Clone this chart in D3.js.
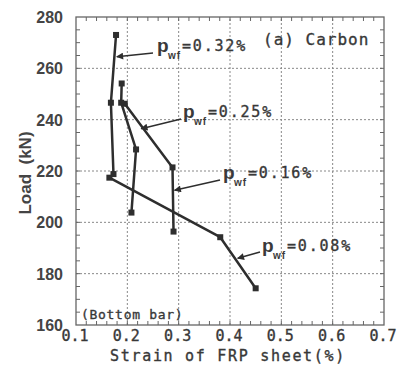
<!DOCTYPE html>
<html><head><meta charset="utf-8">
<script src="https://cdn.jsdelivr.net/npm/d3@7"></script>
<style>body{margin:0;background:#fff}svg{display:block}</style>
</head><body>
<script>
// ---- data ----
const strain032 = [0.178, 0.168, 0.173];
const load032   = [273, 246.6, 218.8];
const strain025 = [0.195, 0.288, 0.290];
const load025   = [246.2, 221.4, 196.4];
const strain016 = [0.189, 0.188, 0.217, 0.208];
const load016   = [254.1, 246.6, 228.4, 203.8];
const strain008 = [0.165, 0.381, 0.450];
const load008   = [217.4, 194.2, 174.3];
const xTicks = [0.1, 0.2, 0.3, 0.4, 0.5, 0.6, 0.7];
const yTicks = [160, 180, 200, 220, 240, 260, 280];
const labels = ["0.32%", "0.25%", "0.16%", "0.08%"];

const W = 400, H = 376;
const m = {l: 76, r: 16, t: 17, b: 51};
const svg = d3.select("body").append("svg").attr("width", W).attr("height", H);
const x = d3.scaleLinear().domain([0.1, 0.7]).range([m.l, W - m.r]);
const y = d3.scaleLinear().domain([160, 280]).range([H - m.b, m.t]);
const ink = "#2e2e2e";
const txt = "#383838";

// grid
const g = svg.append("g");
g.selectAll(".gx").data(xTicks.slice(1, -1)).join("line")
  .attr("x1", d => x(d)).attr("x2", d => x(d)).attr("y1", y(160)).attr("y2", y(280))
  .attr("stroke", "#888").attr("stroke-width", 1).attr("stroke-dasharray", "2,2");
g.selectAll(".gy").data(yTicks.slice(1, -1)).join("line")
  .attr("y1", d => y(d)).attr("y2", d => y(d)).attr("x1", x(0.1)).attr("x2", x(0.7))
  .attr("stroke", "#888").attr("stroke-width", 1).attr("stroke-dasharray", "2,2");

// inward ticks on all sides
const xMinor = d3.range(0.12, 0.7, 0.02).map(v => +v.toFixed(2));
const yMinor = d3.range(165, 280, 5);
const tickG = svg.append("g").attr("stroke", "#666").attr("stroke-width", 1);
function ticksX(vals, len) {
  vals.forEach(v => {
    tickG.append("line").attr("x1", x(v)).attr("x2", x(v)).attr("y1", y(160)).attr("y2", y(160) - len);
    tickG.append("line").attr("x1", x(v)).attr("x2", x(v)).attr("y1", y(280)).attr("y2", y(280) + len);
  });
}
function ticksY(vals, len) {
  vals.forEach(v => {
    tickG.append("line").attr("y1", y(v)).attr("y2", y(v)).attr("x1", x(0.1)).attr("x2", x(0.1) + len);
    tickG.append("line").attr("y1", y(v)).attr("y2", y(v)).attr("x1", x(0.7)).attr("x2", x(0.7) - len);
  });
}
ticksX(xMinor, 4); ticksY(yMinor, 4);

// frame
svg.append("rect").attr("x", x(0.1)).attr("y", y(280))
  .attr("width", x(0.7) - x(0.1)).attr("height", y(160) - y(280))
  .attr("fill", "none").attr("stroke", "#666").attr("stroke-width", 1.3);

// axes labels
svg.append("g").selectAll("text").data(yTicks).join("text")
  .attr("x", x(0.1) - 13).attr("y", d => y(d) + 6).attr("text-anchor", "end")
  .attr("font-family", "Liberation Sans, Arial").attr("font-weight", "bold")
  .attr("font-size", 16).attr("fill", "#444").text(d => d);
const mono = sel => sel.attr("font-family", "DejaVu Sans Mono").attr("fill", txt)
  .attr("stroke", txt).attr("stroke-width", 0.35);
svg.append("g").selectAll("text").data(xTicks).join("text")
  .attr("x", d => x(d) - 1).attr("y", 341).attr("text-anchor", "middle")
  .attr("font-size", 15).call(mono).text(d => d.toFixed(1));

svg.append("text").attr("transform", "translate(31,173) rotate(-90)")
  .attr("text-anchor", "middle").attr("font-family", "Liberation Sans, Arial")
  .attr("font-weight", "bold").attr("font-size", 17).attr("fill", "#444")
  .style("white-space", "pre").text("Load  (kN)");
svg.append("text").attr("x", 228).attr("y", 361).attr("text-anchor", "middle")
  .attr("font-size", 15).attr("letter-spacing", 1.7).call(mono)
  .text("Strain of FRP sheet(%)");

svg.append("text").attr("x", 263).attr("y", 45)
  .attr("font-size", 16).attr("letter-spacing", 1).call(mono).text("(a) Carbon");
svg.append("text").attr("x", 81).attr("y", 319)
  .attr("font-size", 13).attr("letter-spacing", 0.7).call(mono).text("(Bottom bar)");

// series
const series = [
  {s: strain032, l: load032},
  {s: strain025, l: load025},
  {s: strain016, l: load016},
  {s: strain008, l: load008}
];
const line = d3.line().x(d => x(d[0])).y(d => y(d[1]));
series.forEach(se => {
  const pts = se.s.map((v, i) => [v, se.l[i]]);
  svg.append("path").attr("d", line(pts)).attr("fill", "none")
    .attr("stroke", ink).attr("stroke-width", 2.5).attr("stroke-linejoin", "round");
  svg.append("g").selectAll("rect").data(pts).join("rect")
    .attr("x", d => x(d[0]) - 3).attr("y", d => y(d[1]) - 3)
    .attr("width", 6).attr("height", 6).attr("fill", ink);
});

// annotations
const ann = [
  {t: labels[0], px: 157, by: 51, from: [153, 53], tip: [0.1795, 264.5]},
  {t: labels[1], px: 183, by: 117, from: [181, 119], tip: [0.227, 236.5]},
  {t: labels[2], px: 223, by: 178, from: [220, 180], tip: [0.292, 212.5]},
  {t: labels[3], px: 262, by: 251, from: [260, 252], tip: [0.415, 186]}
];
const defs = svg.append("defs");
defs.append("marker").attr("id", "ah").attr("viewBox", "0 0 10 10")
  .attr("refX", 9).attr("refY", 5).attr("markerWidth", 9).attr("markerHeight", 7)
  .attr("markerUnits", "userSpaceOnUse").attr("orient", "auto")
  .append("path").attr("d", "M0,0 L10,5 L0,10 Z").attr("fill", ink);
ann.forEach(a => {
  svg.append("line").attr("x1", a.from[0]).attr("y1", a.from[1])
    .attr("x2", x(a.tip[0])).attr("y2", y(a.tip[1]))
    .attr("stroke", ink).attr("stroke-width", 1.5).attr("marker-end", "url(#ah)");
  svg.append("text").attr("x", a.px).attr("y", a.by + 1)
    .attr("font-family", "Liberation Sans, Arial").attr("font-weight", "bold")
    .attr("font-size", 19).attr("fill", "#3a3a3a").text("p");
  svg.append("text").attr("x", a.px + 11).attr("y", a.by + 8)
    .attr("font-family", "Liberation Sans, Arial").attr("font-weight", "bold")
    .attr("font-size", 10).attr("letter-spacing", 1).attr("fill", "#3a3a3a").text("wf");
  svg.append("text").attr("x", a.px + 25).attr("y", a.by)
    .attr("font-size", 15).attr("letter-spacing", 1.8).call(mono).text("=" + a.t);
});
</script>
</body></html>
